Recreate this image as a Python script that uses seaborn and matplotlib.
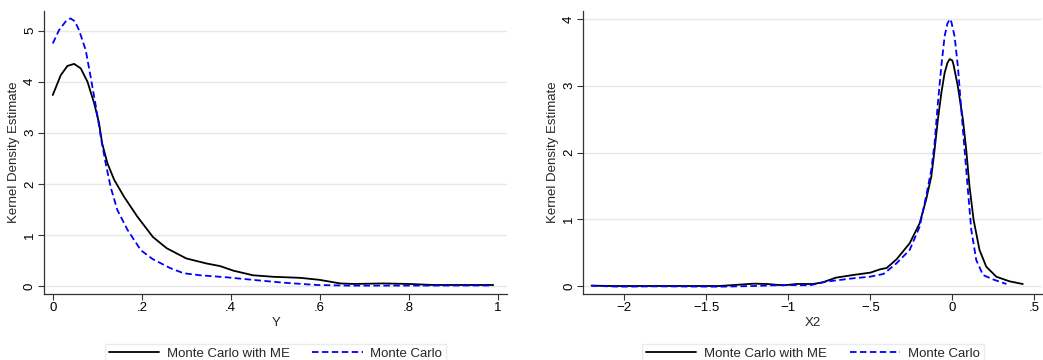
import numpy as np
import pandas as pd
import matplotlib
matplotlib.use("Agg")
import matplotlib.pyplot as plt
import seaborn as sns

# ---- Data ----
# Left panel: density of Y
y_me_x = [0.0, 0.018, 0.033, 0.048, 0.063, 0.078, 0.093, 0.104, 0.111, 0.123, 0.138, 0.16,
          0.19, 0.225, 0.256, 0.30, 0.346, 0.376, 0.406, 0.45, 0.496, 0.556, 0.6, 0.646,
          0.676, 0.743, 0.80, 0.855, 0.92, 0.99]
y_me_d = [3.74, 4.13, 4.31, 4.35, 4.26, 4.00, 3.58, 3.19, 2.79, 2.40, 2.08, 1.75,
          1.36, 0.96, 0.74, 0.54, 0.44, 0.39, 0.30, 0.21, 0.18, 0.16, 0.12, 0.05,
          0.04, 0.05, 0.04, 0.02, 0.02, 0.02]

y_mc_x = [0.0, 0.014, 0.029, 0.04, 0.05, 0.059, 0.074, 0.085, 0.097, 0.108, 0.119, 0.13,
          0.145, 0.168, 0.198, 0.224, 0.264, 0.294, 0.331, 0.391, 0.45, 0.518, 0.593, 0.668,
          0.80, 0.99]
y_mc_d = [4.75, 5.01, 5.18, 5.24, 5.18, 5.01, 4.62, 4.10, 3.51, 2.92, 2.40, 1.94,
          1.49, 1.10, 0.70, 0.53, 0.35, 0.25, 0.21, 0.17, 0.12, 0.065, 0.02, 0.007,
          0.008, 0.01]

# Right panel: density of X2
x2_me_x = [-2.20, -2.07, -1.80, -1.42, -1.30, -1.21, -1.13, -1.03, -0.95, -0.85, -0.79, -0.71,
           -0.605, -0.50, -0.44, -0.40, -0.34, -0.30, -0.26, -0.199, -0.16, -0.128, -0.108,
           -0.088, -0.067, -0.047, -0.03, -0.016, 0.0, 0.008, 0.034, 0.065, 0.085, 0.105,
           0.13, 0.166, 0.207, 0.268, 0.349, 0.43]
x2_me_d = [0.005, 0.0, 0.0, 0.0, 0.02, 0.035, 0.03, 0.01, 0.03, 0.03, 0.055, 0.125,
           0.165, 0.20, 0.25, 0.27, 0.40, 0.52, 0.64, 0.94, 1.29, 1.64, 2.04,
           2.49, 2.89, 3.19, 3.34, 3.40, 3.38, 3.31, 2.99, 2.49, 2.04, 1.49,
           0.99, 0.54, 0.29, 0.14, 0.07, 0.03]

x2_mc_x = [-2.20, -2.03, -1.80, -1.42, -1.21, -1.03, -0.87, -0.77, -0.605, -0.50, -0.42,
           -0.34, -0.30, -0.26, -0.199, -0.16, -0.128, -0.108, -0.088, -0.067, -0.047, -0.03,
           -0.015, -0.006, 0.014, 0.034, 0.055, 0.075, 0.095, 0.116, 0.146, 0.187, 0.247, 0.33]
x2_mc_d = [0.005, -0.01, -0.005, -0.01, 0.0, 0.015, 0.01, 0.065, 0.115, 0.14, 0.18,
           0.34, 0.44, 0.54, 0.89, 1.34, 1.74, 2.14, 2.74, 3.29, 3.74, 3.93,
           4.0, 3.96, 3.74, 3.29, 2.64, 2.04, 1.44, 0.84, 0.39, 0.165, 0.10, 0.03]

series_labels = ["Monte Carlo with ME", "Monte Carlo"]
left_xticks = [0, 0.2, 0.4, 0.6, 0.8, 1.0]
left_xticklabels = ["0", ".2", ".4", ".6", ".8", "1"]
left_yticks = [0, 1, 2, 3, 4, 5]
right_xticks = [-2, -1.5, -1, -0.5, 0, 0.5]
right_xticklabels = ["\u22122", "\u22121.5", "\u22121", "\u2212.5", "0", ".5"]
right_yticks = [0, 1, 2, 3, 4]

# ---- Style ----
sns.set_style("white")
plt.rcParams["font.family"] = ["Liberation Sans", "DejaVu Sans"]
FS = 9.5

fig = plt.figure(figsize=(10.43, 3.6), dpi=100)
axL = fig.add_axes([0.0425, 0.1833, 0.4436, 0.7861])
axR = fig.add_axes([0.5593, 0.1833, 0.4402, 0.7861])

dash = (0, (3.6, 1.9))
LW = 1.3

def draw(ax, xa, ya, xb, yb, xlim, ylim, xticks, xticklabels, yticks, xlabel):
    sns.lineplot(x=xa, y=ya, ax=ax, color="black", linewidth=LW,
                 label=series_labels[0], estimator=None)
    sns.lineplot(x=xb, y=yb, ax=ax, color="#0000ff", linewidth=LW,
                 linestyle=dash, label=series_labels[1], estimator=None)
    ax.set_xlim(*xlim)
    ax.set_ylim(*ylim)
    ax.set_xticks(xticks)
    ax.set_xticklabels(xticklabels, fontsize=FS)
    ax.set_yticks(yticks)
    ax.set_yticklabels([str(t) for t in yticks], fontsize=FS, rotation=90, va="center")
    ax.yaxis.grid(True, color="#e8e8e8", linewidth=1.0)
    ax.xaxis.grid(False)
    ax.set_axisbelow(True)
    for s in ["top", "right"]:
        ax.spines[s].set_visible(False)
    for s in ["left", "bottom"]:
        ax.spines[s].set_color("#333333")
        ax.spines[s].set_linewidth(0.9)
    ax.tick_params(axis="both", direction="out", length=4, width=0.8, color="#333333",
                   pad=2, labelcolor="black", left=True, bottom=True)
    ax.set_xlabel(xlabel, fontsize=FS, labelpad=2)
    ax.set_ylabel("Kernel Density Estimate", fontsize=FS, labelpad=3)
    leg = ax.legend(loc="upper center", bbox_to_anchor=(0.5, -0.152), ncol=2,
                    fontsize=FS, frameon=True, fancybox=False, handlelength=3.8,
                    handletextpad=0.6, columnspacing=1.7, borderpad=0.3)
    leg.get_frame().set_edgecolor("#e6e6e6")
    leg.get_frame().set_linewidth(1.0)

draw(axL, y_me_x, y_me_d, y_mc_x, y_mc_d, (-0.019, 1.021), (-0.157, 5.385),
     left_xticks, left_xticklabels, left_yticks, "Y")
draw(axR, x2_me_x, x2_me_d, x2_mc_x, x2_mc_d, (-2.25, 0.55), (-0.12, 4.12),
     right_xticks, right_xticklabels, right_yticks, "X2")

fig.savefig("out.png", dpi=100)
